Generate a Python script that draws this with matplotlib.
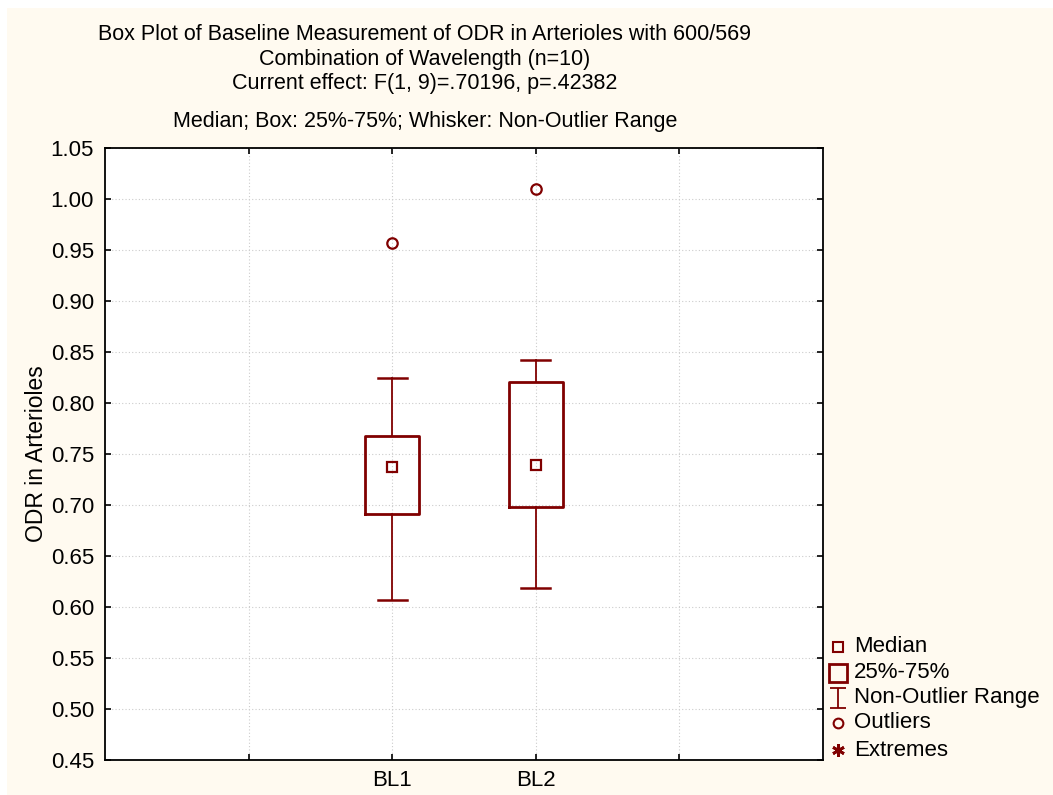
import numpy as np
import matplotlib.pyplot as plt
from matplotlib.lines import Line2D
from matplotlib.path import Path
from matplotlib.patches import Rectangle

plt.rcParams['font.family'] = ['Liberation Sans', 'DejaVu Sans']

# values
groups = ['BL1', 'BL2']
medians = [0.737, 0.739]
q1 = [0.691, 0.698]
q3 = [0.768, 0.821]
whislo = [0.607, 0.619]
whishi = [0.825, 0.842]
outliers = [[0.957], [1.010]]
positions = [2, 3]

yticks = np.arange(0.45, 1.0501, 0.05)
legend_labels = ['Median', '25%-75%', 'Non-Outlier Range', 'Outliers', 'Extremes']
red = '#800000'

W, H = 1053, 795
fig = plt.figure(figsize=(W / 100, H / 100), dpi=100, facecolor='white')
fig.patches.append(Rectangle((7 / W, 0), 1, 1 - 8 / H, transform=fig.transFigure,
                             facecolor='#fffaf0', edgecolor='none', zorder=-10))
ax = fig.add_axes([105 / W, 1 - 760 / H, 718 / W, 612 / H])
ax.set_facecolor('white')

stats = []
for i in range(len(groups)):
    stats.append(dict(med=medians[i], q1=q1[i], q3=q3[i], whislo=whislo[i],
                      whishi=whishi[i], fliers=outliers[i], label=groups[i]))

ax.bxp(stats, positions=positions, widths=0.38, showfliers=True,
       boxprops=dict(color=red, linewidth=2.0),
       whiskerprops=dict(color=red, linewidth=1.3),
       capprops=dict(color=red, linewidth=1.8),
       medianprops=dict(linewidth=0),
       flierprops=dict(marker='o', markersize=7.5, markerfacecolor='none',
                       markeredgecolor=red, markeredgewidth=1.6),
       capwidths=0.2, zorder=3)
ax.plot(positions, medians, linestyle='none', marker='s', markersize=7.5,
        markerfacecolor='none', markeredgecolor=red, markeredgewidth=1.6, zorder=4)

ax.set_xlim(0, 5)
ax.set_ylim(0.45, 1.05)
ax.set_yticks(yticks)
ax.set_yticklabels(['%.2f' % v for v in yticks])
ax.set_xticks([1, 2, 3, 4])
ax.set_xticklabels(['', 'BL1', 'BL2', ''])
ax.tick_params(direction='in', length=4, width=1.2, labelsize=16,
               top=True, right=True, colors='black')
ax.tick_params(axis='x', pad=7)
ax.tick_params(axis='y', pad=8)
ax.grid(True, linestyle=(0, (1, 2)), color='#cccccc', linewidth=0.8)
ax.set_axisbelow(True)
for s in ax.spines.values():
    s.set_linewidth(1.3)
ax.set_ylabel('ODR in Arterioles', fontsize=16.5, labelpad=2)

title_lines = [('Box Plot of Baseline Measurement of ODR in Arterioles with 600/569', 35),
               ('Combination of Wavelength (n=10)', 59),
               ('Current effect: F(1, 9)=.70196, p=.42382', 83),
               ('Median; Box: 25%-75%; Whisker: Non-Outlier Range', 121)]
for txt, yy in title_lines:
    fig.text(425 / W, 1 - yy / H, txt, ha='center', va='center', fontsize=15.5)

# legend drawn by hand so rows sit where the reference has them
ibar = Path([(-0.8, 1), (0.8, 1), (0, 1), (0, -1), (-0.8, -1), (0.8, -1)],
            [Path.MOVETO, Path.LINETO, Path.MOVETO, Path.LINETO, Path.MOVETO, Path.LINETO])
markers = [dict(marker='s', markersize=7, markerfacecolor='none', markeredgewidth=1.5),
           dict(marker='s', markersize=13, markerfacecolor='none', markeredgewidth=2.0),
           dict(marker=ibar, markersize=15, markerfacecolor='none', markeredgewidth=1.3),
           dict(marker='o', markersize=7, markerfacecolor='none', markeredgewidth=1.5),
           dict(marker=(6, 2, 0), markersize=9, markeredgewidth=2.0)]
rows = [647, 673, 698, 723, 750]
for lab, mk, yy in zip(legend_labels, markers, rows):
    fig.add_artist(Line2D([838 / W], [1 - yy / H], transform=fig.transFigure,
                          linestyle='none', markeredgecolor=red, **mk))
    fig.text(854 / W, 1 - yy / H, lab, ha='left', va='center', fontsize=16)

fig.savefig('out.png', dpi=100, facecolor=fig.get_facecolor())
